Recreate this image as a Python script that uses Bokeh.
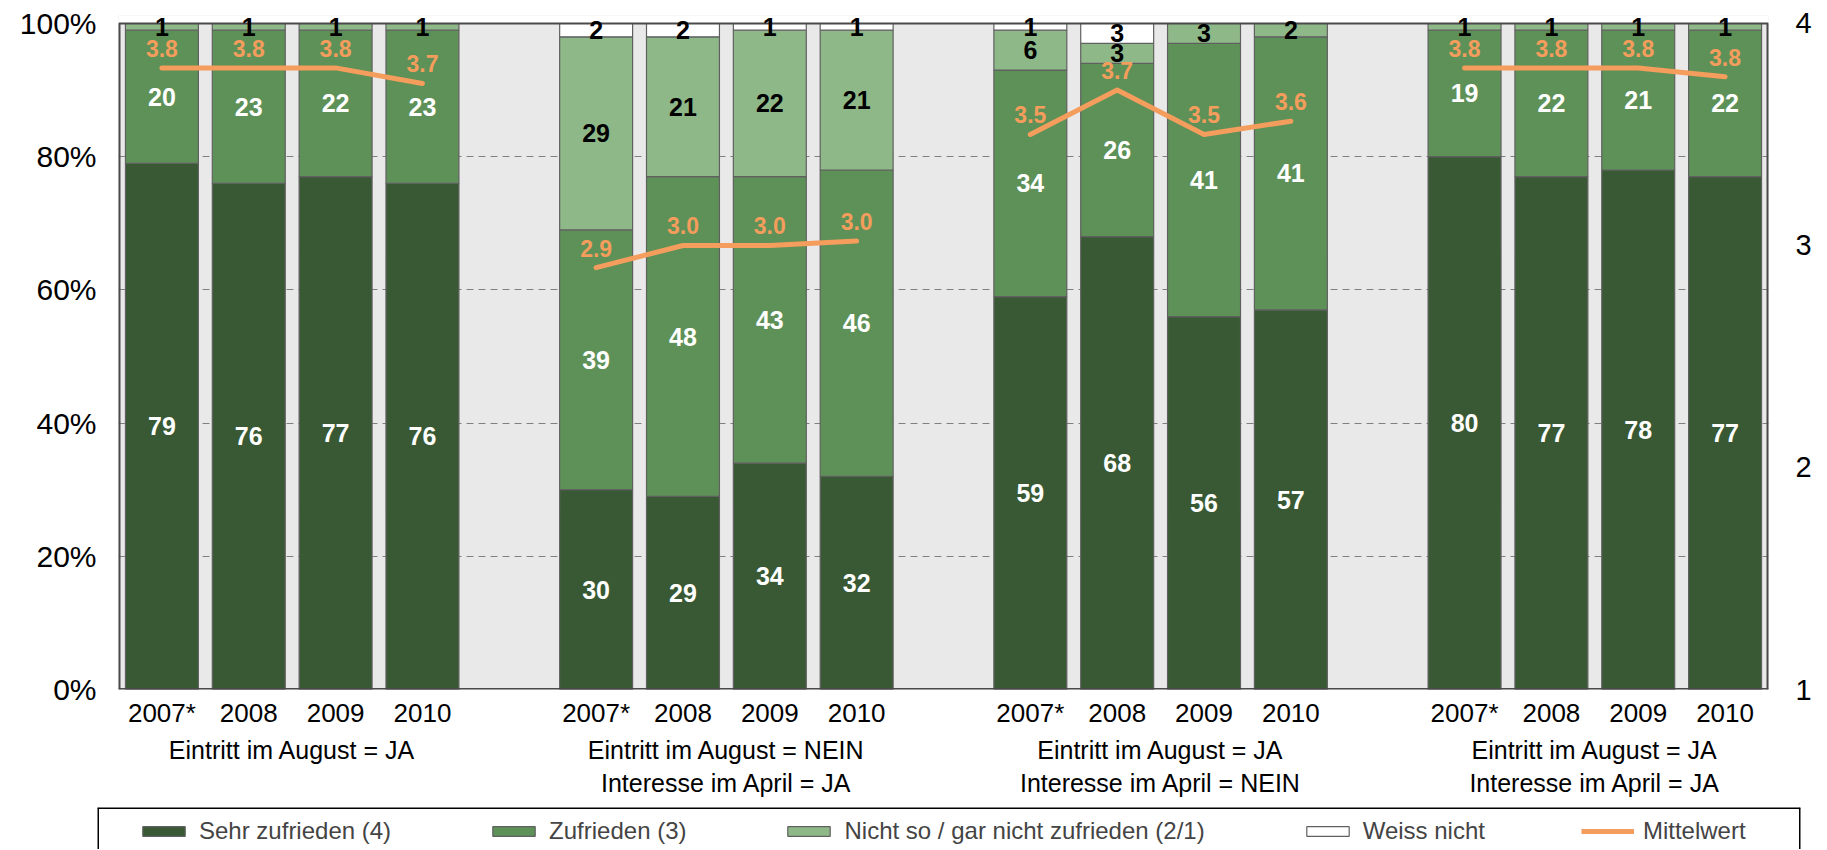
from bokeh.plotting import figure
from bokeh.models import (ColumnDataSource, Range1d, LinearAxis, FixedTicker,
                          PrintfTickFormatter, LabelSet, Legend, LegendItem,
                          BoxAnnotation, Span)
from bokeh.core.properties import value, field
from bokeh.embed import file_html
from bokeh.resources import INLINE

# ---------------- data ----------------
years = ["2007*", "2008", "2009", "2010"]
group_line1 = ["Eintritt im August = JA", "Eintritt im August = NEIN",
               "Eintritt im August = JA", "Eintritt im August = JA"]
group_line2 = ["", "Interesse im April = JA",
               "Interesse im April = NEIN", "Interesse im April = JA"]

sehr_zufrieden = [79, 76, 77, 76, 30, 29, 34, 32, 59, 68, 56, 57, 80, 77, 78, 77]
zufrieden = [20, 23, 22, 23, 39, 48, 43, 46, 34, 26, 41, 41, 19, 22, 21, 22]
nicht_zufrieden = [1, 1, 1, 1, 29, 21, 22, 21, 6, 3, 3, 2, 1, 1, 1, 1]
weiss_nicht = [0, 0, 0, 0, 2, 2, 1, 1, 1, 3, 0, 0, 0, 0, 0, 0]
mittelwert = [3.80, 3.80, 3.80, 3.73, 2.90, 3.00, 3.00, 3.02,
              3.50, 3.70, 3.50, 3.56, 3.80, 3.80, 3.80, 3.76]

series_names = ["Sehr zufrieden (4)", "Zufrieden (3)",
                "Nicht so / gar nicht zufrieden (2/1)", "Weiss nicht"]
mean_name = "Mittelwert"

# ---------------- styling ----------------
FONT = "Liberation Sans"
colors = ["#385934", "#5E9158", "#8FB888", "#FFFFFF"]
label_colors = ["white", "white", "black", "black"]
orange = "#F49D5C"
bar_line = "#606060"
frame_line = "#4A4A4A"

n_groups = len(group_line1)
n_years = len(years)
slot = n_years + 1
xs = [g * slot + i + 0.5 for g in range(n_groups) for i in range(n_years)]
centers = [g * slot + n_years / 2 for g in range(n_groups)]

src = ColumnDataSource(dict(x=xs, sehr=sehr_zufrieden, zuf=zufrieden,
                            nicht=nicht_zufrieden, weiss=weiss_nicht,
                            mean=mittelwert))
stackers = ["sehr", "zuf", "nicht", "weiss"]

W = 1820
TOP = 101.2  # a little head room so the top labels are not clipped
p = figure(width=W, height=807, x_range=Range1d(0, n_groups * slot - 1),
           y_range=Range1d(0, TOP), toolbar_location=None, output_backend="svg",
           min_border_left=118, min_border_right=W - 1768, min_border_top=15,
           min_border_bottom=118)
p.background_fill_color = "#E9E9E9"
p.border_fill_color = "white"
p.outline_line_color = None

p.extra_y_ranges = {"mean": Range1d(1, 1 + 3 * TOP / 100)}

# white head room above 100 %
p.add_layout(BoxAnnotation(bottom=100, top=TOP, fill_color="white", fill_alpha=1,
                           line_color=None, level="underlay"))

p.vbar_stack(stackers, x="x", width=0.84, source=src, fill_color=colors,
             line_color=bar_line, line_width=1.2)

# frame border (0..100 %)
p.segment(x0=[p.x_range.start, p.x_range.end], y0=[0, 0],
          x1=[p.x_range.start, p.x_range.end], y1=[100, 100],
          line_color=frame_line, line_width=4)
p.add_layout(Span(location=100, dimension="width", line_color=frame_line, line_width=2))
p.add_layout(Span(location=0, dimension="width", line_color=frame_line, line_width=3))

# segment value labels
lx, ly, lt, lc = [], [], [], []
for i in range(len(xs)):
    base = 0
    vals = [sehr_zufrieden[i], zufrieden[i], nicht_zufrieden[i], weiss_nicht[i]]
    for k, v in enumerate(vals):
        if v > 0:
            lx.append(xs[i])
            ly.append(base + v / 2)
            lt.append(str(v))
            lc.append(label_colors[k])
        base += v
lab_src = ColumnDataSource(dict(x=lx, y=ly, t=lt, c=lc))
p.add_layout(LabelSet(x="x", y="y", text="t", source=lab_src, text_color=field("c"),
                      text_align="center", text_baseline="middle",
                      text_font=value(FONT), text_font_size="25px",
                      text_font_style="bold"))

# mean lines (one per group)
mxs = [xs[g * n_years:(g + 1) * n_years] for g in range(n_groups)]
mys = [mittelwert[g * n_years:(g + 1) * n_years] for g in range(n_groups)]
p.multi_line(mxs, mys, y_range_name="mean", line_color=orange, line_width=5,
             line_cap="round", line_join="round")
mean_src = ColumnDataSource(dict(x=xs, y=[m + 0.088 for m in mittelwert],
                                 t=[f"{m:.1f}" for m in mittelwert]))
p.add_layout(LabelSet(x="x", y="y", text="t", source=mean_src, y_range_name="mean",
                      text_color=orange, text_align="center", text_baseline="middle",
                      text_font=value(FONT), text_font_size="23px",
                      text_font_style="bold"))

# axes
yax = p.yaxis[0]
yax.ticker = FixedTicker(ticks=[0, 20, 40, 60, 80, 100])
yax.formatter = PrintfTickFormatter(format="%d%%")
yax.axis_line_color = None
yax.major_tick_line_color = None
yax.minor_tick_line_color = None
yax.major_label_standoff = 16
yax.major_label_text_font = FONT
yax.major_label_text_font_size = "30px"
yax.major_label_text_color = "black"

rax = LinearAxis(y_range_name="mean", ticker=FixedTicker(ticks=[1, 2, 3, 4]))
rax.axis_line_color = None
rax.major_tick_line_color = None
rax.minor_tick_line_color = None
rax.major_label_standoff = 21
rax.major_label_text_font = FONT
rax.major_label_text_font_size = "29px"
rax.major_label_text_color = "black"
p.add_layout(rax, "right")

xax = p.xaxis[0]
xax.ticker = FixedTicker(ticks=xs)
xax.major_label_overrides = {x: years[i % n_years] for i, x in enumerate(xs)}
xax.axis_line_color = None
xax.major_tick_line_color = None
xax.minor_tick_line_color = None
xax.major_label_standoff = 2
xax.major_label_text_font = FONT
xax.major_label_text_font_size = "26px"
xax.major_label_text_color = "black"

gax = LinearAxis(ticker=FixedTicker(ticks=centers))
gax.major_label_overrides = {c: (group_line1[g] + ("\n" + group_line2[g] if group_line2[g] else ""))
                             for g, c in enumerate(centers)}
gax.axis_line_color = None
gax.major_tick_line_color = None
gax.minor_tick_line_color = None
gax.major_label_standoff = -1
gax.major_label_text_font = FONT
gax.major_label_text_font_size = "25px"
gax.major_label_text_color = "black"
p.add_layout(gax, "below")

p.xgrid.visible = False
p.ygrid.ticker = FixedTicker(ticks=[20, 40, 60, 80])
p.ygrid.grid_line_color = "#808080"
p.ygrid.grid_line_dash = "7 5"
p.ygrid.grid_line_width = 1

# ---------------- legend strip (separate root; its frame is the legend box) ----------------
f2 = figure(width=W, height=42, x_range=Range1d(0, 1), y_range=Range1d(0, 1),
            toolbar_location=None, output_backend="svg",
            min_border_left=97, min_border_right=W - 1800, min_border_top=0,
            min_border_bottom=0, x_axis_location=None, y_axis_location=None)
f2.outline_line_color = None
f2.background_fill_color = "white"
f2.border_fill_color = "white"
f2.xgrid.visible = False
f2.ygrid.visible = False
# box open at the bottom, as in the cropped original
f2.add_layout(Span(location=f2.y_range.end, dimension="width", line_color="black", line_width=3))
f2.add_layout(Span(location=f2.x_range.start, dimension="height", line_color="black", line_width=3))
f2.add_layout(Span(location=f2.x_range.end, dimension="height", line_color="black", line_width=3))

items = []
for k, s in enumerate(stackers):
    r = f2.vbar(x="x", top=s, width=0.5, source=src, fill_color=colors[k],
                line_color=bar_line, line_width=1.2, visible=False)
    items.append(LegendItem(label=series_names[k], renderers=[r]))
rl = f2.line(x="x", y="mean", source=src, line_color=orange, line_width=5,
             visible=False)
items.append(LegendItem(label=mean_name, renderers=[rl]))

leg = Legend(items=items, location=(40, 4), orientation="horizontal",
             border_line_color=None, background_fill_alpha=0, padding=0, margin=0,
             spacing=96, glyph_width=53, glyph_height=12, label_standoff=9,
             label_text_font=FONT, label_text_font_size="24px")
f2.add_layout(leg)

open("out.html", "w").write(file_html([p, f2], INLINE))
